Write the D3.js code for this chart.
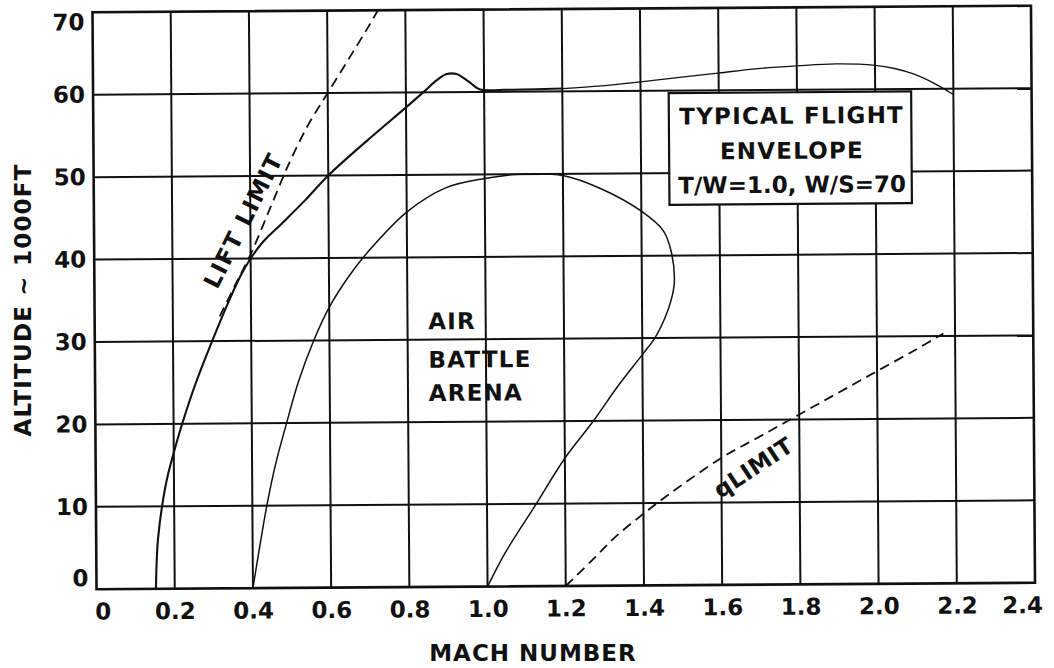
<!DOCTYPE html>
<html>
<head>
<meta charset="utf-8">
<script src="https://cdn.jsdelivr.net/npm/d3@7"></script>
<style>
  html, body { margin: 0; padding: 0; background: #ffffff; }
  svg { display: block; }
  text { font-family: "DejaVu Sans", sans-serif; font-weight: bold; fill: #111; }
</style>
</head>
<body>
<svg id="chart" width="1054" height="668"></svg>
<script>
// ---------------- data ----------------
const machTicks = [0, 0.2, 0.4, 0.6, 0.8, 1.0, 1.2, 1.4, 1.6, 1.8, 2.0, 2.2, 2.4];
const machTickLabels = ["0", "0.2", "0.4", "0.6", "0.8", "1.0", "1.2", "1.4", "1.6", "1.8", "2.0", "2.2", "2.4"];
const altTicks = [0, 10, 20, 30, 40, 50, 60, 70];
const altTickLabels = ["0", "10", "20", "30", "40", "50", "60", "70"];

// typical flight envelope  [mach, altitude (1000 ft)]
const envelope = [
  [0.152, 0], [0.154, 3], [0.158, 6], [0.169, 10], [0.183, 13.5], [0.2, 16.5],
  [0.222, 20], [0.258, 25], [0.30, 30], [0.345, 35], [0.375, 38], [0.40, 40],
  [0.43, 41.9], [0.48, 44.2], [0.54, 47], [0.60, 50], [0.70, 54.2], [0.80, 58.2],
  [0.844, 60], [0.88, 61.5], [0.905, 62.2], [0.93, 62.2], [0.96, 61.3], [0.99, 60.3],
  [1.05, 60.25], [1.2, 60.35], [1.3, 60.65], [1.4, 61.1], [1.5, 61.6], [1.6, 62.1],
  [1.7, 62.6], [1.8, 62.9], [1.9, 63.1], [2.0, 62.9], [2.05, 62.5], [2.1, 61.8],
  [2.15, 60.7], [2.2, 59.3]
];

// air battle arena
const arena = [
  [0.40, 0], [0.418, 5], [0.437, 10], [0.46, 15], [0.489, 20], [0.52, 25],
  [0.56, 30], [0.60, 34], [0.65, 37.7], [0.70, 40.7], [0.80, 45.5], [0.90, 48.4],
  [1.00, 49.5], [1.09, 50], [1.2, 49.8], [1.30, 48.1], [1.40, 45.4], [1.456, 43],
  [1.476, 40.4], [1.483, 36.7], [1.474, 34.5], [1.458, 32.4], [1.432, 30], [1.40, 28],
  [1.34, 24.4], [1.272, 19.9], [1.20, 15.5], [1.122, 9.7], [1.046, 4.1], [1.0, 0]
];

// lift limit (dashed)
const liftLimit = [
  [0.32, 33], [0.36, 36.8], [0.40, 40.5], [0.45, 46], [0.50, 51.5], [0.55, 56.2],
  [0.60, 60], [0.65, 63.8], [0.70, 67.6], [0.73, 70]
];

// q limit (dashed)
const qLimit = [
  [1.2, 0], [1.27, 3.2], [1.33, 6], [1.4, 8.7], [1.45, 10.5], [1.5, 12.2], [1.6, 15.4],
  [1.7, 18], [1.8, 20.6], [1.9, 23.2], [2.0, 25.8], [2.1, 28.4], [2.17, 30.3]
];

const boxLines = ["TYPICAL FLIGHT", "ENVELOPE", "T/W=1.0, W/S=70"];
const arenaLines = ["AIR", "BATTLE", "ARENA"];

// ---------------- drawing ----------------
const svg = d3.select("#chart");
svg.append("rect").attr("width", 1054).attr("height", 668).attr("fill", "#fff");

const x = d3.scaleLinear().domain([0, 2.4]).range([94.5, 1033]);
const y = d3.scaleLinear().domain([0, 70]).range([586, 9]);

const cx = (x.range()[0] + x.range()[1]) / 2;
const cy = (y.range()[0] + y.range()[1]) / 2;
const plot = svg.append("g").attr("transform", `rotate(-0.4, ${cx}, ${cy})`);

// grid
plot.append("g").selectAll("line")
  .data(machTicks.slice(1, -1)).join("line")
  .attr("x1", d => x(d)).attr("x2", d => x(d))
  .attr("y1", y(0)).attr("y2", y(70))
  .attr("stroke", "#111").attr("stroke-width", 2);
plot.append("g").selectAll("line")
  .data(altTicks.slice(1, -1)).join("line")
  .attr("y1", d => y(d)).attr("y2", d => y(d))
  .attr("x1", x(0)).attr("x2", x(2.4))
  .attr("stroke", "#111").attr("stroke-width", 2);

// frame
plot.append("rect")
  .attr("x", x(0)).attr("y", y(70))
  .attr("width", x(2.4) - x(0)).attr("height", y(0) - y(70))
  .attr("fill", "none").attr("stroke", "#111").attr("stroke-width", 2.6);

// axes
const xAxis = d3.axisBottom(x).tickValues(machTicks)
  .tickFormat((d, i) => machTickLabels[i]).tickSize(0).tickPadding(14);
const gx = plot.append("g").attr("transform", `translate(0,${y(0)})`).call(xAxis);
gx.select(".domain").remove();
gx.selectAll("text").attr("font-size", 23)
  .style("font-family", "'DejaVu Sans', sans-serif").style("font-weight", "bold").attr("fill", "#111");
gx.selectAll(".tick").filter(d => d === 2.4).select("text").attr("dx", -13);
gx.selectAll(".tick").filter(d => d === 0).select("text").attr("dx", 6);

const yAxis = d3.axisLeft(y).tickValues(altTicks)
  .tickFormat((d, i) => altTickLabels[i]).tickSize(0).tickPadding(8);
const gy = plot.append("g").attr("transform", `translate(${x(0)},0)`).call(yAxis);
gy.select(".domain").remove();
gy.selectAll("text").attr("font-size", 23)
  .style("font-family", "'DejaVu Sans', sans-serif").style("font-weight", "bold").attr("fill", "#111");
gy.selectAll(".tick").filter(d => d === 70).select("text").attr("transform", "translate(0,10)");
gy.selectAll(".tick").filter(d => d === 0).select("text").attr("transform", "translate(0,-11)");

// curves
const line = d3.line().x(d => x(d[0])).y(d => y(d[1])).curve(d3.curveCatmullRom.alpha(0.5));

plot.append("path").datum(envelope.filter(d => d[0] <= 1.2))
  .attr("d", line).attr("fill", "none").attr("stroke", "#111").attr("stroke-width", 2.1);
plot.append("path").datum(envelope.filter(d => d[0] >= 1.2))
  .attr("d", line).attr("fill", "none").attr("stroke", "#111").attr("stroke-width", 1.3);
plot.append("path").datum(arena)
  .attr("d", line).attr("fill", "none").attr("stroke", "#111").attr("stroke-width", 1.5);
plot.append("path").datum(liftLimit)
  .attr("d", line).attr("fill", "none").attr("stroke", "#111").attr("stroke-width", 1.8)
  .attr("stroke-dasharray", "10,6");
plot.append("path").datum(qLimit)
  .attr("d", line).attr("fill", "none").attr("stroke", "#111").attr("stroke-width", 1.8)
  .attr("stroke-dasharray", "10,6");

// annotation: flight envelope box
const boxX0 = 1.472, boxX1 = 2.092, boxTop = 59.7, boxBottom = 46.15;
plot.append("rect")
  .attr("x", x(boxX0)).attr("y", y(boxTop))
  .attr("width", x(boxX1) - x(boxX0)).attr("height", y(boxBottom) - y(boxTop))
  .attr("fill", "#fff").attr("stroke", "#111").attr("stroke-width", 2.2);
const boxBaselines = [55.9, 51.65, 47.52];
const boxSpacing = [1.2, 1.2, 0];
plot.append("g").selectAll("text").data(boxLines).join("text")
  .attr("x", x(1.786)).attr("y", (d, i) => y(boxBaselines[i]))
  .attr("text-anchor", "middle").attr("font-size", 23)
  .attr("letter-spacing", (d, i) => boxSpacing[i])
  .text(d => d);

// annotation: air battle arena
const arenaBaselines = [31.26, 26.6, 22.56];
plot.append("g").selectAll("text").data(arenaLines).join("text")
  .attr("x", x(0.853)).attr("y", (d, i) => y(arenaBaselines[i]))
  .attr("font-size", 23).attr("letter-spacing", 1.2)
  .text(d => d);

// annotation: limits
plot.append("text")
  .attr("transform", `translate(${x(0.382)},${y(44.6)}) rotate(-63)`)
  .attr("text-anchor", "middle").attr("dominant-baseline", "central")
  .attr("font-size", 23).attr("letter-spacing", 1.5)
  .text("LIFT LIMIT");
plot.append("text")
  .attr("transform", `translate(${x(1.682)},${y(14.2)}) rotate(-33)`)
  .attr("text-anchor", "middle").attr("dominant-baseline", "central")
  .attr("font-size", 23).attr("letter-spacing", 0.5)
  .text("qLIMIT");

// axis titles
svg.append("text")
  .attr("x", 533).attr("y", 661)
  .attr("text-anchor", "middle").attr("font-size", 23).attr("letter-spacing", 1)
  .text("MACH NUMBER");
svg.append("text")
  .attr("transform", "translate(22.5,300) rotate(-90)")
  .attr("text-anchor", "middle").attr("dominant-baseline", "central")
  .attr("font-size", 23).attr("letter-spacing", 1.2)
  .text("ALTITUDE ~ 1000FT");
</script>
</body>
</html>
